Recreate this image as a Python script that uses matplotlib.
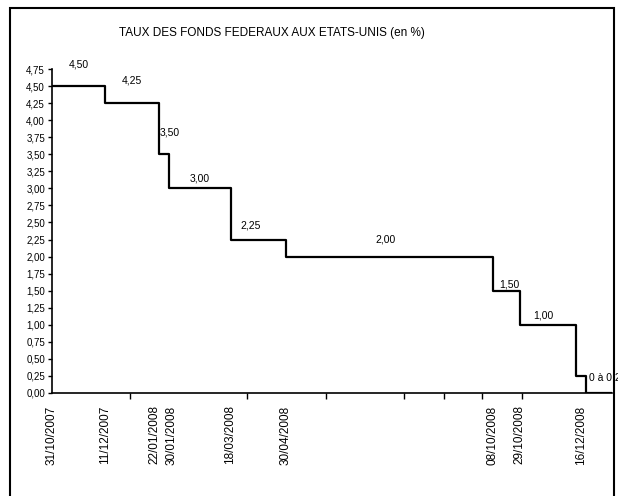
import matplotlib
matplotlib.use("Agg")
import matplotlib.pyplot as plt
from matplotlib.patches import Rectangle
from matplotlib.ticker import FuncFormatter
from matplotlib.transforms import ScaledTranslation
import pandas as pd

plt.rcParams['font.family'] = ['Liberation Sans Narrow', 'Liberation Sans', 'DejaVu Sans']

# taux cible des fonds fédéraux (en %)
dates = ["2007-10-31", "2007-12-11", "2008-01-22", "2008-01-30", "2008-03-18",
         "2008-04-30", "2008-10-08", "2008-10-29", "2008-12-12", "2008-12-20"]
taux = [4.50, 4.25, 3.50, 3.00, 2.25, 2.00, 1.50, 1.00, 0.25, 0.00]
fin = "2009-01-09"
etiquettes = ["4,50", "4,25", "3,50", "3,00", "2,25", "2,00", "1,50", "1,00", "0 à 0,25"]

# dates affichées sous l'axe
dates_axe = ["2007-10-31", "2007-12-11", "2008-01-22", "2008-01-30", "2008-03-18",
             "2008-04-30", "2008-10-08", "2008-10-29", "2008-12-16"]
labels_axe = ["31/10/2007", "11/12/2007", "22/01/2008", "30/01/2008", "18/03/2008",
              "30/04/2008", "08/10/2008", "29/10/2008", "16/12/2008"]
reperes = ["2007-12-31", "2008-03-31", "2008-05-31", "2008-07-31",
           "2008-08-31", "2008-09-30", "2008-10-31"]

x = pd.to_datetime(dates + [fin])
y = taux + [taux[-1]]

fig = plt.figure(figsize=(6.18, 4.96), dpi=100)
ax = fig.add_axes([52 / 618, 1 - 393 / 496, 560 / 618, 324 / 496])

ax.step(x, y, where="post", color="black", lw=1.6)

ax.set_xlim(x[0], x[-1])
ax.set_ylim(0, 4.75)
ax.set_yticks([i * 0.25 for i in range(20)])
ax.yaxis.set_major_formatter(FuncFormatter(lambda v, p: f"{v:.2f}".replace(".", ",")))
ax.tick_params(axis="y", labelsize=7, length=3, width=1, pad=2)

ax.set_xticks(pd.to_datetime(dates_axe))
ax.set_xticklabels(labels_axe, rotation=90, fontsize=8.5)
ax.tick_params(axis="x", which="major", length=0, pad=9)
ax.set_xticks(pd.to_datetime(reperes), minor=True)
ax.tick_params(axis="x", which="minor", length=4, width=1)

# écarter les deux dates de janvier 2008, trop proches
lbl = ax.get_xticklabels()
for k, dx in [(2, -0.045), (3, 0.025)]:
    lbl[k].set_transform(lbl[k].get_transform() + ScaledTranslation(dx, 0, fig.dpi_scale_trans))

for s in ["top", "right"]:
    ax.spines[s].set_visible(False)
for s in ["left", "bottom"]:
    ax.spines[s].set_linewidth(1.2)

# étiquettes de valeur au-dessus de chaque palier
decalages = [(0, 22), (0, 23), (6, 22), (0, 10), (-8, 14), (-4, 17), (3, 6), (-4, 9), (8, -2)]
for i, (txt, (dx, dy)) in enumerate(zip(etiquettes, decalages)):
    milieu = x[i] + (x[i + 1] - x[i]) / 2
    ha = "left" if i == len(etiquettes) - 1 else "center"
    ax.annotate(txt, (milieu, taux[i]), xytext=(dx, dy), textcoords="offset pixels",
                ha=ha, va="center", fontsize=7.5, annotation_clip=False)

fig.text(272 / 618, 1 - 33 / 496, "TAUX DES FONDS FEDERAUX AUX ETATS-UNIS (en %)",
         ha="center", va="center", fontsize=8.5)

# cadre autour du graphique
fig.patches.append(Rectangle((10 / 618, -0.02), 604 / 618, 1.02 - 8 / 496,
                             transform=fig.transFigure, fill=False,
                             edgecolor="black", lw=1.5))

fig.savefig("out.png", dpi=100)
